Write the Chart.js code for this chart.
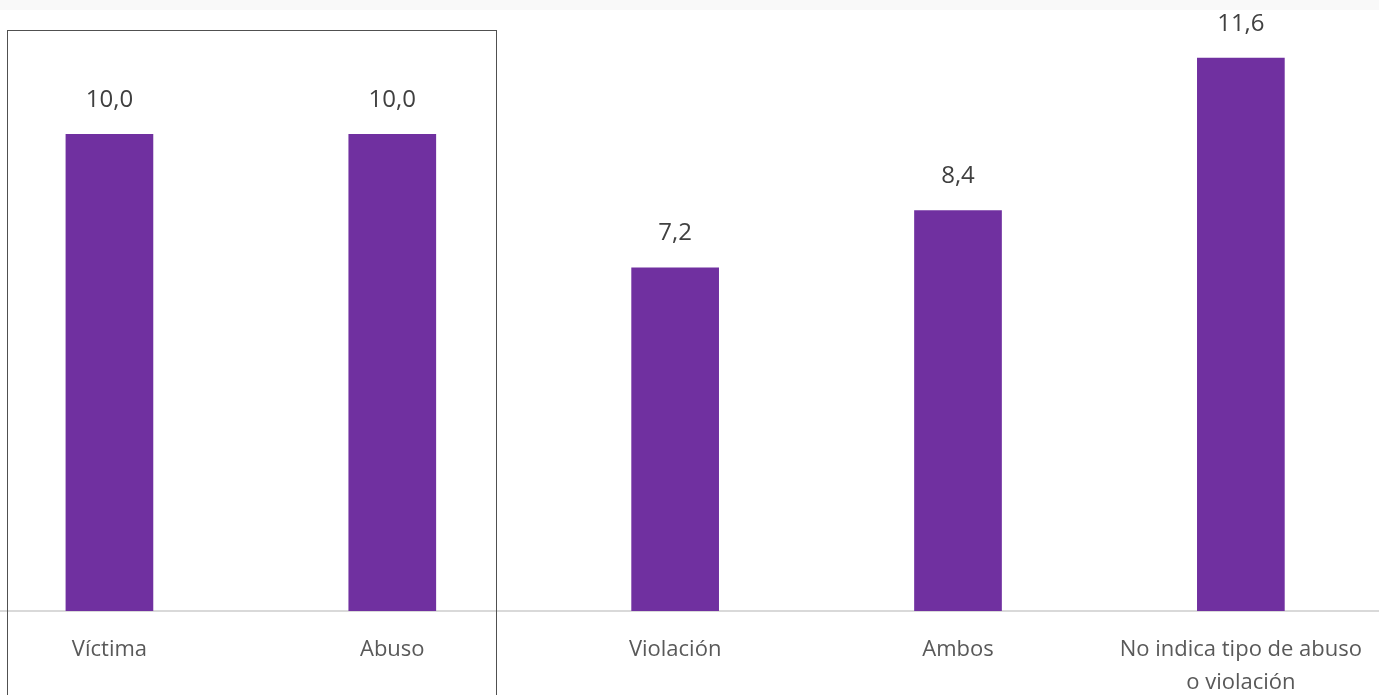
<!DOCTYPE html>
<html>
<head>
<meta charset="utf-8">
<script src="https://cdn.jsdelivr.net/npm/chart.js@4"></script>
<style>
    html, body { margin: 0; padding: 0; background: #fff; overflow: hidden; }
    body { width: 1379px; height: 695px; position: relative; }
    .topstrip { position: absolute; left: 0; top: 0; width: 1379px; height: 10px; background: #f9f9f9; }
    .wrap { position: absolute; left: -32px; top: 0; width: 1416px; height: 695px; }
    .box { position: absolute; left: 7px; top: 30px; width: 488px; height: 680px; border: 1px solid #505050; pointer-events: none; }
</style>
</head>
<body>
<div class="topstrip"></div>
<div class="wrap"><canvas id="chart"></canvas></div>
<div class="box"></div>
<script>
const categories = ["Víctima", "Abuso", "Violación", "Ambos", ["No indica tipo de abuso", "o violación"]]
const values = [10.0, 10.0, 7.2, 8.4, 11.6]
const barColor = "#7030a0"

// value labels above each bar, decimal comma as in the source
const valueLabels = {
    id: "valueLabels",
    afterDatasetsDraw(chart) {
        const ctx = chart.ctx
        const meta = chart.getDatasetMeta(0)
        ctx.save()
        ctx.font = "24px 'Open Sans'"
        ctx.fillStyle = "#404040"
        ctx.textAlign = "center"
        ctx.textBaseline = "middle"
        meta.data.forEach((bar, i) => {
            ctx.fillText(values[i].toFixed(1).replace(".", ","), bar.x, bar.y - 34)
        })
        ctx.restore()
    }
}

window.onload = () => {
    new Chart(document.getElementById("chart"), {
        type: "bar",
        data: {
            labels: categories,
            datasets: [{
                data: values,
                backgroundColor: barColor,
                categoryPercentage: 1,
                barPercentage: 0.31
            }]
        },
        options: {
            responsive: true,
            maintainAspectRatio: false,
            animation: false,
            layout: { padding: 0 },
            plugins: { legend: { display: false }, tooltip: { enabled: false } },
            scales: {
                x: {
                    grid: { display: false, drawTicks: false },
                    border: { display: true, color: "#d9d9d9", width: 2 },
                    ticks: {
                        color: "#595959",
                        font: { family: "'Open Sans'", size: 22, lineHeight: 1.5 },
                        padding: 22,
                        maxRotation: 0,
                        autoSkip: false
                    },
                    afterFit(scale) { scale.height = 84 }
                },
                y: {
                    display: false,
                    min: 0,
                    max: 12.81
                }
            }
        },
        plugins: [valueLabels]
    })
}
</script>
</body>
</html>
